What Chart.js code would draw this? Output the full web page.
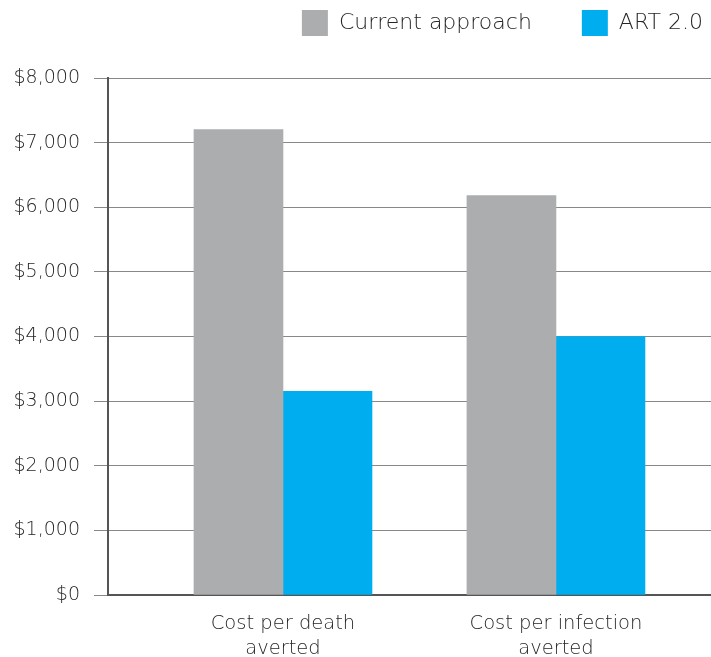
<!DOCTYPE html>
<html>
<head>
<meta charset="utf-8">
<script src="https://cdn.jsdelivr.net/npm/chart.js@4.4.1/dist/chart.umd.min.js"></script>
<style>
  html, body { margin: 0; padding: 0; background: #ffffff; }
  #wrap { width: 711px; height: 657px; position: relative; }
</style>
</head>
<body>
<div id="wrap"><canvas id="c" width="711" height="657"></canvas></div>
<script>
// ---- Data ----
const categories = [["Cost per death", "averted"], ["Cost per infection", "averted"]];
const categoryPositions = [0, 1];
const seriesNames = ["Current approach", "ART 2.0"];
const currentApproach = [7200, 6180];
const art20 = [3150, 4000];
const yTickValues = [0, 1000, 2000, 3000, 4000, 5000, 6000, 7000, 8000];

const FONT = "'DejaVu Sans', 'Liberation Sans', sans-serif";
const TEXT_COLOR = '#262626';

const legendTweak = {
  id: 'legendTweak',
  beforeInit(chart) {
    const lg = chart.legend;
    const origFit = lg.fit;
    lg.fit = function () {
      origFit.call(this);
      this.height = 78;
    };
  },
  afterLayout(chart) {
    const lg = chart.legend;
    const p = lg.options.labels.padding;
    lg.top = 10 - p;
    lg.right = chart.width - 8 + p;
  }
};

new Chart(document.getElementById('c'), {
  type: 'bar',
  data: {
    datasets: [
      {
        label: seriesNames[0],
        data: categoryPositions.map((x, i) => ({ x: x, y: currentApproach[i] })),
        backgroundColor: '#ACADAF',
        borderWidth: 0
      },
      {
        label: seriesNames[1],
        data: categoryPositions.map((x, i) => ({ x: x, y: art20[i] })),
        backgroundColor: '#00AEEF',
        borderWidth: 0
      }
    ]
  },
  plugins: [legendTweak],
  options: {
    responsive: false,
    animation: false,
    devicePixelRatio: 1,
    barThickness: 89,
    layout: { padding: { left: 0, right: 0, top: 0, bottom: 0 } },
    plugins: {
      tooltip: { enabled: false },
      legend: {
        position: 'top',
        align: 'end',
        labels: {
          boxWidth: 26,
          boxHeight: 26,
          padding: 50,
          color: TEXT_COLOR,
          font: { family: FONT, size: 22, weight: '300' }
        }
      }
    },
    scales: {
      x: {
        type: 'linear',
        offset: false,
        min: -0.641,
        max: 1.568,
        afterBuildTicks: (scale) => { scale.ticks = categoryPositions.map(v => ({ value: v })); },
        afterFit: (scale) => { scale.height = 62; },
        grid: { display: false, offset: false },
        border: { display: true, color: '#555555', width: 2 },
        ticks: {
          autoSkip: false,
          maxRotation: 0,
          minRotation: 0,
          padding: 8,
          color: TEXT_COLOR,
          font: { family: FONT, size: 19.5, lineHeight: 1.3, weight: '300' },
          callback: (v) => categories[categoryPositions.indexOf(v)]
        }
      },
      y: {
        min: 0,
        max: 8000,
        afterBuildTicks: (scale) => { scale.ticks = yTickValues.map(v => ({ value: v })); },
        afterFit: (scale) => { scale.width = 108; },
        grid: { color: '#888888', lineWidth: 1, tickLength: 14, drawTicks: true },
        border: { display: true, color: '#555555', width: 2 },
        ticks: {
          padding: 14,
          color: TEXT_COLOR,
          font: { family: FONT, size: 19, weight: '300' },
          callback: (v) => '$' + Number(v).toLocaleString('en-US')
        }
      }
    }
  }
});
</script>
</body>
</html>
